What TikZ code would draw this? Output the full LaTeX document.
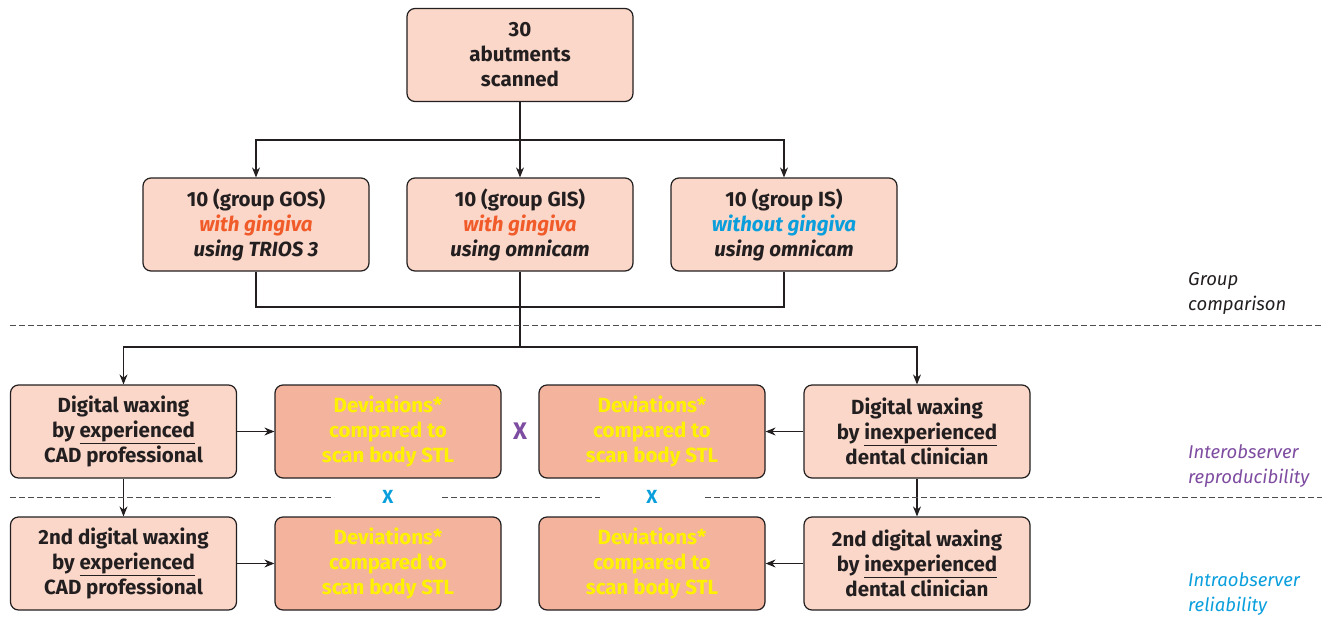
\documentclass[tikz,border=0pt]{standalone}
\usepackage{fontspec}
\setmainfont{Fira Sans}
\usetikzlibrary{arrows.meta}
\definecolor{boxfill}{HTML}{FAD7C8}
\definecolor{devfill}{HTML}{F4B39C}
\definecolor{devtext}{HTML}{FFF200}
\definecolor{orangered}{HTML}{F15A29}
\definecolor{skyblue}{HTML}{0A9FDC}
\definecolor{purp}{HTML}{7E4CA0}
\definecolor{ink}{HTML}{231F20}
\begin{document}
\begin{tikzpicture}[x=1pt,y=-1pt,
  box/.style={draw=ink,line width=1.2pt,rounded corners=8pt,fill=boxfill,minimum width=226pt,minimum height=93pt,align=center,inner sep=0pt,text=ink,font=\fontsize{20.5}{25}\selectfont\bfseries},
  devbox/.style={box,fill=devfill,text=devtext},
  conn/.style={draw=ink,line width=1.1pt},
  arr/.style={conn,-{Stealth[length=10pt,width=8pt]}},
  sep/.style={draw=ink!80,line width=1pt,dash pattern=on 6pt off 3pt},
  side/.style={align=left,anchor=west,font=\fontsize{18.5}{25}\selectfont\itshape,inner sep=0pt}
]
\useasboundingbox (0,0) rectangle (1326,622);
% top
\node[box] (top) at (520,55) {30\\abutments\\scanned};
\node[box] (gos) at (256,224.5) {10 (group GOS)\\\textcolor{orangered}{\itshape with gingiva}\\\itshape using TRIOS 3};
\node[box] (gis) at (520,224.5) {10 (group GIS)\\\textcolor{orangered}{\itshape with gingiva}\\\itshape using omnicam};
\node[box] (is) at (784,224.5) {10 (group IS)\\\textcolor{skyblue}{\itshape without gingiva}\\\itshape using omnicam};
% row 2
\node[box] (exp1) at (123.5,431.5) {Digital waxing\\by \underline{experienced}\\CAD professional};
\node[devbox] (dev1) at (388,431.5) {Deviations*\\compared to\\scan body STL};
\node[devbox] (dev2) at (652,431.5) {Deviations*\\compared to\\scan body STL};
\node[box] (inx1) at (917,431.5) {Digital waxing\\by \underline{inexperienced}\\dental clinician};
% row 3
\node[box] (exp2) at (123.5,563.5) {2nd digital waxing\\by \underline{experienced}\\CAD professional};
\node[devbox] (dev3) at (388,563.5) {Deviations*\\compared to\\scan body STL};
\node[devbox] (dev4) at (652,563.5) {Deviations*\\compared to\\scan body STL};
\node[box] (inx2) at (917,563.5) {2nd digital waxing\\by \underline{inexperienced}\\dental clinician};
% X markers
\node[text=purp,font=\fontsize{24}{28}\selectfont\bfseries] (xp) at (520,431) {X};
\node[text=skyblue,font=\fontsize{19}{22}\selectfont\bfseries] (xb1) at (388,497) {X};
\node[text=skyblue,font=\fontsize{19}{22}\selectfont\bfseries] (xb2) at (652,497) {X};
% side labels
\node[side,text=ink] (lg) at (1188,294) {Group\\comparison};
\node[side,text=purp] (li) at (1188,466) {Interobserver\\reproducibility};
\node[side,text=skyblue] (lr) at (1188,594) {Intraobserver\\reliability};
% coordinates
\coordinate (j1) at (520,140);
\coordinate (j2) at (520,307);
\coordinate (j3) at (520,347);
% connectors top
\draw[conn] (top.south) -- (j1);
\draw[arr] (j1) -| (gos.north);
\draw[arr] (j1) -- (gis.north);
\draw[arr] (j1) -| (is.north);
% merge
\draw[conn] (gos.south) |- (j2) -| (is.south);
\draw[conn] (gis.south) -- (j3);
\draw[arr] (j3) -| (exp1.north);
\draw[arr] (j3) -| (inx1.north);
% row arrows
\draw[arr] (exp1.east) -- (dev1.west);
\draw[arr] (inx1.west) -- (dev2.east);
\draw[arr] (exp2.east) -- (dev3.west);
\draw[arr] (inx2.west) -- (dev4.east);
\draw[arr] (exp1.south) -- (exp2.north);
\draw[arr] (inx1.south) -- (inx2.north);
% dashed separators
\coordinate (d1a) at (10,325); \coordinate (d1b) at (1322,325);
\draw[sep] (d1a) -- (d1b);
\coordinate (d2a) at (10,497); \coordinate (d2b) at (334,497);
\coordinate (d2c) at (442,497); \coordinate (d2d) at (600,497);
\coordinate (d2e) at (705,497); \coordinate (d2f) at (1322,497);
\draw[sep] (d2a) -- (d2b);
\draw[sep] (d2c) -- (d2d);
\draw[sep] (d2e) -- (d2f);
\end{tikzpicture}
\end{document}
